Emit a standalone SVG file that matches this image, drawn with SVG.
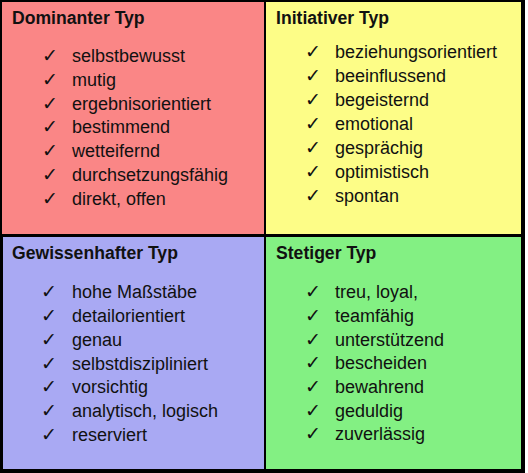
<svg xmlns="http://www.w3.org/2000/svg" width="528" height="473" viewBox="0 0 528 473">
<style>
.t{font-family:"Liberation Sans",Arial,sans-serif;font-weight:bold;font-size:17.6px;fill:#111}
.i{font-family:"Liberation Sans",Arial,sans-serif;font-size:18px;fill:#111}
.c{font-family:"DejaVu Sans",sans-serif;font-size:19px;fill:#111}
</style>
<rect x="0" y="0" width="528" height="473" fill="#ffffff"/>
<rect x="0" y="0" width="525" height="473" fill="#000000"/>
<g id="dominant">
<rect x="2" y="2" width="262" height="232" fill="#fa8686"/>
<text class="t" x="12" y="24">Dominanter Typ</text>
<g class="c"><text x="42" y="62">✓</text><text x="42" y="86">✓</text><text x="42" y="110">✓</text><text x="42" y="133">✓</text><text x="42" y="157">✓</text><text x="42" y="181">✓</text><text x="42" y="205">✓</text></g>
<text class="i" x="72" y="62">selbstbewusst</text>
<text class="i" x="72" y="86">mutig</text>
<text class="i" x="72" y="110">ergebnisorientiert</text>
<text class="i" x="72" y="133">bestimmend</text>
<text class="i" x="72" y="157">wetteifernd</text>
<text class="i" x="72" y="181">durchsetzungsfähig</text>
<text class="i" x="72" y="205">direkt, offen</text>
</g>
<g id="initiativ">
<rect x="266" y="2" width="255" height="232" fill="#fdfd87"/>
<text class="t" x="276" y="24">Initiativer Typ</text>
<g class="c"><text x="305" y="58">✓</text><text x="305" y="82">✓</text><text x="305" y="106">✓</text><text x="305" y="130">✓</text><text x="305" y="154">✓</text><text x="305" y="178">✓</text><text x="305" y="202">✓</text></g>
<text class="i" x="335" y="58">beziehungsorientiert</text>
<text class="i" x="335" y="82">beeinflussend</text>
<text class="i" x="335" y="106">begeisternd</text>
<text class="i" x="335" y="130">emotional</text>
<text class="i" x="335" y="154">gesprächig</text>
<text class="i" x="335" y="178">optimistisch</text>
<text class="i" x="335" y="202">spontan</text>
</g>
<g id="gewissenhaft">
<rect x="3" y="237" width="261" height="232" fill="#a9a9f3"/>
<text class="t" x="12" y="259">Gewissenhafter Typ</text>
<g class="c"><text x="41" y="298">✓</text><text x="41" y="322">✓</text><text x="41" y="346">✓</text><text x="41" y="370">✓</text><text x="41" y="393">✓</text><text x="41" y="417">✓</text><text x="41" y="441">✓</text></g>
<text class="i" x="72" y="298">hohe Maßstäbe</text>
<text class="i" x="72" y="322">detailorientiert</text>
<text class="i" x="72" y="346">genau</text>
<text class="i" x="72" y="370">selbstdiszipliniert</text>
<text class="i" x="72" y="393">vorsichtig</text>
<text class="i" x="72" y="417">analytisch, logisch</text>
<text class="i" x="72" y="441">reserviert</text>
</g>
<g id="stetig">
<rect x="266" y="237" width="255" height="232" fill="#83f083"/>
<text class="t" x="276" y="259">Stetiger Typ</text>
<g class="c"><text x="305" y="298">✓</text><text x="305" y="322">✓</text><text x="305" y="346">✓</text><text x="305" y="369">✓</text><text x="305" y="393">✓</text><text x="305" y="417">✓</text><text x="305" y="440">✓</text></g>
<text class="i" x="335" y="298">treu, loyal,</text>
<text class="i" x="335" y="322">teamfähig</text>
<text class="i" x="335" y="346">unterstützend</text>
<text class="i" x="335" y="369">bescheiden</text>
<text class="i" x="335" y="393">bewahrend</text>
<text class="i" x="335" y="417">geduldig</text>
<text class="i" x="335" y="440">zuverlässig</text>
</g>
<g id="connectors"></g>
</svg>
